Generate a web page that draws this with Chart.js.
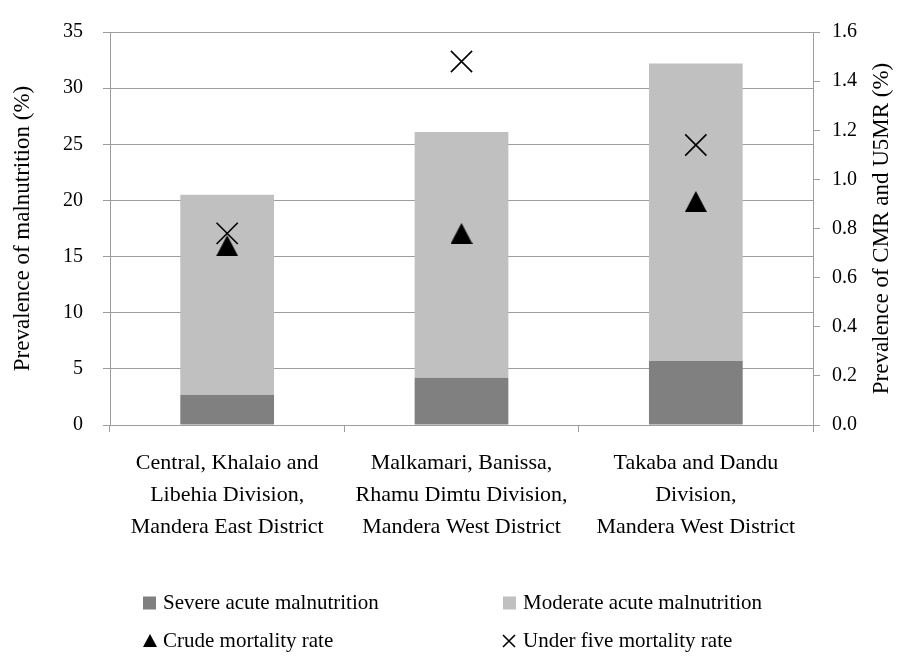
<!DOCTYPE html>
<html>
<head>
<meta charset="utf-8">
<script src="https://cdn.jsdelivr.net/npm/chart.js@4.4.0/dist/chart.umd.min.js"></script>
<style>
  body { margin: 0; background: #fff; }
  #wrap { width: 909px; height: 657px; }
</style>
</head>
<body>
<div id="wrap"><canvas id="myChart" width="909" height="657"></canvas></div>
<script>
		// survey areas, one bar each
		const divisions = [
			['Central, Khalaio and', 'Libehia Division,', 'Mandera East District'],
			['Malkamari, Banissa,', 'Rhamu Dimtu Division,', 'Mandera West District'],
			['Takaba and Dandu', 'Division,', 'Mandera West District']
		];
		// malnutrition (%) - stacked bars, left axis
		const severe = [2.7, 4.2, 5.7];
		const moderate = [17.8, 21.9, 26.5];
		// mortality (%) - markers, right axis
		const cmr = [0.73, 0.78, 0.91];
		const u5mr = [0.78, 1.48, 1.14];

		const seriesNames = ['Severe acute malnutrition', 'Moderate acute malnutrition', 'Crude mortality rate', 'Under five mortality rate'];
		const rightTitle = 'Prevalence of CMR and U5MR (%)';

		const FONT = "'Liberation Serif', 'Times New Roman', serif";
		const gridCol = '#9d9d9d';

		// filled triangle sprite, centred on its box
		function triangleSprite(w, h) {
			const c = document.createElement('canvas');
			c.width = w; c.height = h;
			const g = c.getContext('2d');
			g.fillStyle = '#000';
			g.beginPath();
			g.moveTo(w / 2, 0);
			g.lineTo(w, h);
			g.lineTo(0, h);
			g.closePath();
			g.fill();
			return c;
		}

		// right axis title reads bottom-to-top like the left one
		const rightAxisTitle = {
			id: 'rightAxisTitle',
			afterDraw(chart) {
				const ctx = chart.ctx;
				const area = chart.chartArea;
				ctx.save();
				ctx.font = '23px ' + FONT;
				ctx.fillStyle = '#000';
				ctx.textAlign = 'center';
				ctx.textBaseline = 'middle';
				ctx.translate(882, (area.top + area.bottom) / 2);
				ctx.rotate(-Math.PI / 2);
				ctx.fillText(rightTitle, 0, 0);
				ctx.restore();
			}
		};

		// legend in two columns under the chart
		const gridLegend = {
			id: 'gridLegend',
			afterDraw(chart) {
				const ctx = chart.ctx;
				ctx.save();
				ctx.font = '21px ' + FONT;
				ctx.fillStyle = '#000';
				ctx.textBaseline = 'middle';
				ctx.textAlign = 'left';

				const cols = [143, 503];
				const rows = [603, 641];

				ctx.fillStyle = '#808080';
				ctx.fillRect(cols[0], rows[0] - 6.5, 13, 13);
				ctx.fillStyle = '#c0c0c0';
				ctx.fillRect(cols[1], rows[0] - 6.5, 13, 13);

				ctx.fillStyle = '#000';
				ctx.beginPath();
				ctx.moveTo(cols[0] + 7, rows[1] - 7);
				ctx.lineTo(cols[0] + 14, rows[1] + 6);
				ctx.lineTo(cols[0], rows[1] + 6);
				ctx.closePath();
				ctx.fill();

				ctx.strokeStyle = '#000';
				ctx.lineWidth = 1.6;
				ctx.beginPath();
				ctx.moveTo(cols[1], rows[1] - 6);
				ctx.lineTo(cols[1] + 12, rows[1] + 6);
				ctx.moveTo(cols[1] + 12, rows[1] - 6);
				ctx.lineTo(cols[1], rows[1] + 6);
				ctx.stroke();

				ctx.fillText(seriesNames[0], cols[0] + 20, rows[0]);
				ctx.fillText(seriesNames[1], cols[1] + 20, rows[0]);
				ctx.fillText(seriesNames[2], cols[0] + 20, rows[1]);
				ctx.fillText(seriesNames[3], cols[1] + 20, rows[1]);
				ctx.restore();
			}
		};

const ctx = document.getElementById('myChart').getContext('2d');
const myChart = new Chart(ctx, {
    type: 'bar',
    data: {
        labels: divisions,
        datasets: [{
            label: seriesNames[0],
            data: severe,
            backgroundColor: '#808080',
            yAxisID: 'y',
            order: 3,
            categoryPercentage: 1,
            barPercentage: 0.4
        }, {
            label: seriesNames[1],
            data: moderate,
            backgroundColor: '#c0c0c0',
            yAxisID: 'y',
            order: 3,
            categoryPercentage: 1,
            barPercentage: 0.4
        }, {
            type: 'line',
            label: seriesNames[2],
            data: cmr,
            yAxisID: 'y1',
            showLine: false,
            pointStyle: triangleSprite(22, 21),
            order: 2
        }, {
            type: 'line',
            label: seriesNames[3],
            data: u5mr,
            yAxisID: 'y1',
            showLine: false,
            pointStyle: 'crossRot',
            pointRadius: 15,
            pointBorderWidth: 1.6,
            borderColor: '#000',
            pointBorderColor: '#000',
            order: 1
        }]
    },
    options: {
        responsive: false,
        animation: false,
        events: [],
        layout: { padding: { top: 22, bottom: 97, left: 0, right: 0 } },
        plugins: {
            legend: { display: false },
            tooltip: { enabled: false }
        },
        scales: {
            x: {
                stacked: true,
                grid: { drawOnChartArea: false, drawTicks: true, tickLength: 7, color: gridCol, offset: true },
                border: { color: gridCol },
                ticks: {
                    autoSkip: false, maxRotation: 0, padding: 15, color: '#000',
                    font: { family: FONT, size: 22, lineHeight: 32 / 22 }
                },
                afterFit(scale) { scale.height = 135; }
            },
            y: {
                stacked: true,
                position: 'left',
                min: 0, max: 35,
                grid: { color: gridCol, tickLength: 7 },
                border: { color: gridCol },
                ticks: { stepSize: 5, padding: 20, color: '#000', font: { family: FONT, size: 20 } },
                title: {
                    display: true, text: 'Prevalence of malnutrition (%)', color: '#000',
                    font: { family: FONT, size: 23 }, padding: { top: 9, bottom: 0 }
                },
                afterFit(scale) { scale.width = 110; }
            },
            y1: {
                position: 'right',
                min: 0, max: 1.6,
                grid: { drawOnChartArea: false, color: gridCol, tickLength: 7 },
                border: { color: gridCol },
                ticks: {
                    stepSize: 0.2, padding: 12, color: '#000', font: { family: FONT, size: 20 },
                    callback: v => v.toFixed(1)
                },
                afterFit(scale) { scale.width = 96; }
            }
        }
    },
    plugins: [gridLegend, rightAxisTitle]
});
</script>
</body>
</html>
